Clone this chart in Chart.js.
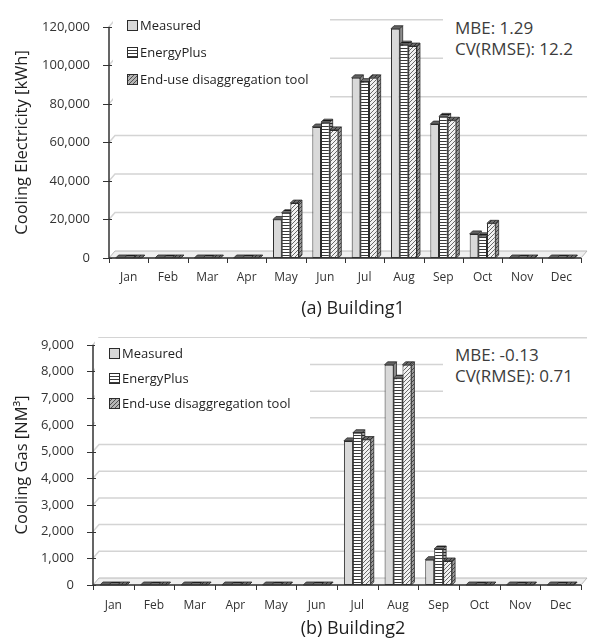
<!DOCTYPE html>
<html>
<head>
<meta charset="utf-8">
<script src="https://cdn.jsdelivr.net/npm/chart.js@4/dist/chart.umd.min.js"></script>
<style>
  html, body { margin: 0; padding: 0; background: #fff; }
  #page { position: relative; width: 590px; height: 642px; overflow: hidden; font-family: 'Open Sans', 'Noto Sans', sans-serif; }
  canvas.plot { position: absolute; left: 0; }
  .box { position: absolute; background: #fff; }
  .leg { position: absolute; height: 18px; line-height: 18px; font-size: 13px; color: #1e1e1e; white-space: nowrap; display: flex; align-items: center; }
  .leg canvas { display: block; margin-right: 2px; }
  .stats { position: absolute; font-size: 17px; line-height: 21px; color: #3c3c3c; white-space: nowrap; }
  .caption { position: absolute; width: 240px; text-align: center; font-size: 18px; line-height: 24px; color: #1e1e1e; }
</style>
</head>
<body>
<div id="page">
  <canvas id="elec" class="plot" width="590" height="290" style="top:0px"></canvas>
  <canvas id="gas" class="plot" width="590" height="300" style="top:318px"></canvas>

  <div class="box" style="left:113px;top:8px;width:217px;height:92px"></div>
  <div class="leg" style="left:127px;top:16px"><canvas width="11" height="11" data-series="0"></canvas><span>Measured</span></div>
  <div class="leg" style="left:127px;top:43px"><canvas width="11" height="11" data-series="1"></canvas><span>EnergyPlus</span></div>
  <div class="leg" style="left:127px;top:70px"><canvas width="11" height="11" data-series="2"></canvas><span>End-use disaggregation tool</span></div>
  <div class="box" style="left:443px;top:12px;width:147px;height:50px"></div>
  <div class="stats" style="left:455px;top:17px">MBE: 1.29<br>CV(RMSE): 12.2</div>
  <div class="caption" style="left:233px;top:295px">(a) Building1</div>

  <div class="box" style="left:95px;top:338px;width:215px;height:87px"></div>
  <div class="leg" style="left:109px;top:344px"><canvas width="11" height="11" data-series="0"></canvas><span>Measured</span></div>
  <div class="leg" style="left:109px;top:369px"><canvas width="11" height="11" data-series="1"></canvas><span>EnergyPlus</span></div>
  <div class="leg" style="left:109px;top:394px"><canvas width="11" height="11" data-series="2"></canvas><span>End-use disaggregation tool</span></div>
  <div class="box" style="left:443px;top:340px;width:147px;height:60px"></div>
  <div class="stats" style="left:455px;top:344px">MBE: -0.13<br>CV(RMSE): 0.71</div>
  <div class="caption" style="left:233px;top:615px">(b) Building2</div>
</div>

<script>
// Monthly categories
const months = ['Jan', 'Feb', 'Mar', 'Apr', 'May', 'Jun', 'Jul', 'Aug', 'Sep', 'Oct', 'Nov', 'Dec'];
const seriesNames = ['Measured', 'EnergyPlus', 'End-use disaggregation tool'];

// Building 1: cooling electricity [kWh]
const elecMeasured   = [0, 0, 0, 0, 20000, 68000, 93500, 119000, 69500, 12500, 0, 0];
const elecEnergyPlus = [0, 0, 0, 0, 23500, 70500, 91500, 111000, 73500, 11500, 0, 0];
const elecEndUse     = [0, 0, 0, 0, 28500, 66500, 93500, 110000, 71500, 18000, 0, 0];

// Building 2: cooling gas [NM3]
const gasMeasured   = [0, 0, 0, 0, 0, 0, 5400, 8250, 950, 0, 0, 0];
const gasEnergyPlus = [0, 0, 0, 0, 0, 0, 5700, 7750, 1350, 0, 0, 0];
const gasEndUse     = [0, 0, 0, 0, 0, 0, 5450, 8250, 900, 0, 0, 0];

// Y axis ranges
const elecAxis = { max: 120000, step: 20000 };
const gasAxis  = { max: 9000, step: 1000 };

// Fill patterns for the three series
function makePattern(kind) {
  const c = document.createElement('canvas');
  const g = c.getContext('2d');
  if (kind === 0) {
    c.width = 4; c.height = 4;
    g.fillStyle = '#d9d9d9'; g.fillRect(0, 0, 4, 4);
  } else if (kind === 1) {
    c.width = 4; c.height = 3;
    g.fillStyle = '#ffffff'; g.fillRect(0, 0, 4, 3);
    g.fillStyle = '#3a3a3a'; g.fillRect(0, 0, 4, 1);
  } else {
    c.width = 4; c.height = 4;
    g.fillStyle = '#f2f2f2'; g.fillRect(0, 0, 4, 4);
    g.strokeStyle = '#6a6a6a'; g.lineWidth = 1;
    g.beginPath();
    g.moveTo(0, 4); g.lineTo(4, 0);
    g.moveTo(-1, 1); g.lineTo(1, -1);
    g.moveTo(3, 5); g.lineTo(5, 3);
    g.stroke();
  }
  return g.createPattern(c, 'repeat');
}
const fills = [makePattern(0), makePattern(1), makePattern(2)];

// Legend swatches
document.querySelectorAll('.leg canvas').forEach(cv => {
  const k = +cv.dataset.series;
  const g = cv.getContext('2d');
  g.fillStyle = fills[k];
  g.fillRect(0, 0, 11, 11);
  if (k === 2) { g.fillStyle = 'rgba(0,0,0,0.25)'; g.fillRect(0, 0, 11, 11); }
  g.strokeStyle = '#2b2b2b'; g.lineWidth = 1;
  g.strokeRect(0.5, 0.5, 10, 10);
});

// Pseudo-3D look: back wall, floor, and bar top/side faces
const depth3d = {
  id: 'depth3d',
  beforeDatasetsDraw(chart) {
    const ctx = chart.ctx, xs = chart.scales.x, ys = chart.scales.y;
    const L = xs.left, R = xs.right, B = ys.getPixelForValue(0);
    const wx = 6, wy = 7;
    ctx.save();
    ctx.strokeStyle = '#d4d4d4'; ctx.lineWidth = 1.5;
    ys.ticks.forEach(t => {
      if (t.value === 0) return;
      const py = ys.getPixelForValue(t.value);
      ctx.beginPath();
      ctx.moveTo(L, py); ctx.lineTo(L + wx, py - wy); ctx.lineTo(R + wx, py - wy);
      ctx.stroke();
    });
    ctx.beginPath();
    ctx.moveTo(L, B); ctx.lineTo(L + wx, B - wy); ctx.lineTo(R + wx, B - wy); ctx.lineTo(R, B);
    ctx.closePath();
    ctx.fillStyle = '#efefef'; ctx.fill();
    ctx.strokeStyle = '#b8b8b8'; ctx.lineWidth = 1; ctx.stroke();

    const d = 3;
    const poly = (pts, fill, shade) => {
      ctx.beginPath();
      pts.forEach((p, i) => i ? ctx.lineTo(p[0], p[1]) : ctx.moveTo(p[0], p[1]));
      ctx.closePath();
      ctx.fillStyle = fill; ctx.fill();
      ctx.fillStyle = shade; ctx.fill();
      ctx.strokeStyle = '#2b2b2b'; ctx.lineWidth = 0.8; ctx.stroke();
    };
    chart.data.datasets.forEach((ds, i) => {
      chart.getDatasetMeta(i).data.forEach(el => {
        const p = el.getProps(['x', 'y', 'base', 'width'], true);
        const l = p.x - p.width / 2, r = p.x + p.width / 2;
        const top = Math.min(p.y, p.base), base = Math.max(p.y, p.base);
        poly([[r, top], [r + d, top - d], [r + d, base - d], [r, base]], ds.backgroundColor, 'rgba(0,0,0,0.35)');
        poly([[l, top], [l + d, top - d], [r + d, top - d], [r, top]], ds.backgroundColor, 'rgba(0,0,0,0.55)');
      });
    });
    ctx.restore();
  },
  afterDatasetsDraw(chart) {
    const ctx = chart.ctx, xs = chart.scales.x, ys = chart.scales.y;
    const L = xs.left, R = xs.right, B = ys.getPixelForValue(0);
    ctx.save();
    ctx.strokeStyle = '#333'; ctx.lineWidth = 1.5;
    ctx.beginPath();
    ctx.moveTo(L, ys.getPixelForValue(ys.max)); ctx.lineTo(L, B);
    ctx.moveTo(L, B); ctx.lineTo(R, B);
    ctx.stroke();
    ctx.lineWidth = 1;
    ctx.beginPath();
    ys.ticks.forEach(t => {
      const py = Math.round(ys.getPixelForValue(t.value)) + 0.5;
      ctx.moveTo(L - 6, py); ctx.lineTo(L + 3, py);
    });
    const n = xs.ticks.length;
    for (let i = 0; i <= n; i++) {
      const px = Math.round(L + i * (R - L) / n) + 0.5;
      ctx.moveTo(px, B); ctx.lineTo(px, B + 5);
    }
    ctx.stroke();
    ctx.restore();
  }
};

function buildChart(id, series, axis, title, geom) {
  const datasets = series.map((vals, i) => ({
    label: seriesNames[i],
    data: vals,
    backgroundColor: fills[i],
    borderColor: '#2b2b2b',
    borderWidth: 1,
    borderSkipped: false,
    categoryPercentage: 0.66,
    barPercentage: 1.0
  }));
  return new Chart(document.getElementById(id), {
    type: 'bar',
    data: { labels: months, datasets },
    plugins: [depth3d],
    options: {
      responsive: false,
      animation: false,
      devicePixelRatio: 1,
      layout: { padding: { left: 0, right: 9, top: geom.padTop, bottom: geom.padBottom } },
      plugins: { legend: { display: false }, tooltip: { enabled: false } },
      scales: {
        x: {
          grid: { display: false, drawTicks: false },
          border: { display: false },
          ticks: { color: '#333', font: { family: "'Open Sans', sans-serif", size: 12 }, padding: geom.xPad, maxRotation: 0 },
          afterFit: s => { s.height = 30; }
        },
        y: {
          min: 0, max: axis.max,
          grid: { display: false, drawTicks: false },
          border: { display: false },
          ticks: {
            stepSize: axis.step,
            color: '#333',
            padding: 19,
            font: { family: "'Open Sans', sans-serif", size: 13 },
            callback: v => Number(v).toLocaleString('en-US')
          },
          title: {
            display: true, text: title, color: '#1e1e1e',
            font: { family: "'Open Sans', sans-serif", size: 16.5 },
            padding: { top: 12, bottom: 0 }
          },
          afterFit: s => { s.width = geom.axisLeft; }
        }
      }
    }
  });
}

buildChart('elec', [elecMeasured, elecEnergyPlus, elecEndUse], elecAxis,
  'Cooling Electricity [kWh]', { padTop: 13, padBottom: 2, axisLeft: 109, xPad: 12 });
buildChart('gas', [gasMeasured, gasEnergyPlus, gasEndUse], gasAxis,
  'Cooling Gas [NM³]', { padTop: 22, padBottom: 3, axisLeft: 93, xPad: 13 });
</script>
</body>
</html>
